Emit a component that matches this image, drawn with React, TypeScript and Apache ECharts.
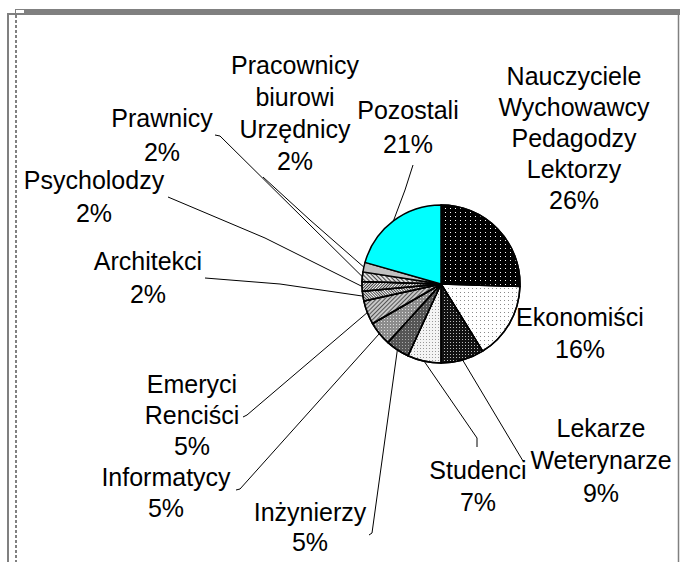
import React, { useEffect, useRef } from "react";
import * as echarts from "echarts";

// ---- data ----
const categories = [
  "Nauczyciele\nWychowawcy\nPedagodzy\nLektorzy",
  "Ekonomiści",
  "Lekarze\nWeterynarze",
  "Studenci",
  "Inżynierzy",
  "Informatycy",
  "Emeryci\nRenciści",
  "Architekci",
  "Psycholodzy",
  "Prawnicy",
  "Pracownicy\nbiurowi\nUrzędnicy",
  "Pozostali",
];
const percentValues = [26, 16, 9, 7, 5, 5, 5, 2, 2, 2, 2, 21];

// ---- presentation ----
const sliceColors = [
  "#000000", "#ffffff", "#111111", "#f4f4f4", "#555555", "#8c8c8c",
  "#c8c8c8", "#ffffff", "#ffffff", "#e0e0e0", "#c0c0c0", "#00ffff",
];
const sliceDecals: any[] = [
  { symbol: "rect", symbolSize: 1, color: "#ffffff", dashArrayX: [1, 4], dashArrayY: [1, 3] },
  { symbol: "rect", symbolSize: 1, color: "#8a8a8a", dashArrayX: [1, 3], dashArrayY: [1, 3] },
  { symbol: "rect", symbolSize: 1, color: "#bbbbbb", dashArrayX: [1, 2], dashArrayY: [1, 2] },
  { symbol: "rect", symbolSize: 1, color: "#999999", dashArrayX: [1, 2], dashArrayY: [1, 2] },
  { symbol: "rect", symbolSize: 1, color: "#aaaaaa", dashArrayX: [1, 2], dashArrayY: [1, 2] },
  { symbol: "rect", symbolSize: 1, color: "#dddddd", dashArrayX: [1, 2], dashArrayY: [1, 2] },
  { symbol: "rect", symbolSize: 1, color: "#555555", dashArrayX: [1, 0], dashArrayY: [1, 2], rotation: -Math.PI / 4 },
  { symbol: "rect", symbolSize: 1, color: "#444444", dashArrayX: [1, 0], dashArrayY: [1, 1], rotation: Math.PI / 4 },
  { symbol: "rect", symbolSize: 1, color: "#333333", dashArrayX: [1, 0], dashArrayY: [1, 1], rotation: -Math.PI / 4 },
  { symbol: "rect", symbolSize: 1, color: "#444444", dashArrayX: [1, 0], dashArrayY: [1, 2], rotation: Math.PI / 4 },
  null,
  null,
];
// label centre positions and leader line [mid, end] points (page px)
const labelPos: [number, number][] = [
  [574, 138], [580, 333], [601, 460], [478, 486], [310, 527], [166, 492.5],
  [192, 415], [148, 277], [94, 196], [162, 135], [295, 113], [408, 127],
];
const leaderPts: ([number, number][] | null)[] = [
  null,
  null,
  [[520, 456], [523, 461]],
  [[477, 438], [477, 447]],
  [[372, 533], [369, 535]],
  [[240, 489], [236, 490]],
  [[247, 415], [243, 417]],
  [[280, 284], [205, 278]],
  [[265, 238], [168, 197]],
  [[220, 136], [215, 135]],
  [[310, 220], [263, 177]],
  [[405, 190], [413, 165]],
];
const lineHeights = [31, 32.5, 32.5, 32, 30, 31, 31, 33, 33, 34, 32, 34];

export default function App() {
  const ref = useRef<HTMLDivElement>(null);
  useEffect(() => {
    document.body.style.margin = "0";
    if (!ref.current) return;
    const chart = echarts.init(ref.current, null, { renderer: "svg" });
    const data = categories.map((name, i) => ({
      name,
      value: percentValues[i],
      itemStyle: {
        color: sliceColors[i],
        ...(sliceDecals[i] ? { decal: sliceDecals[i] } : {}),
      },
      label: { lineHeight: lineHeights[i] },
      labelLine: { show: !!leaderPts[i] },
    }));
    chart.setOption({
      animation: false,
      backgroundColor: "#ffffff",
      graphic: [
        { type: "rect", shape: { x: 15, y: 9, width: 665, height: 6 }, style: { fill: "#808080" }, silent: true },
        { type: "rect", shape: { x: 16, y: 10, width: 8, height: 3 }, style: { fill: "#ffffff" }, silent: true },
        { type: "polyline", shape: { points: [[8, 562], [8, 14], [15, 14]] }, style: { stroke: "#808080", lineWidth: 2, fill: null }, silent: true },
        { type: "line", shape: { x1: 16, y1: 15, x2: 16, y2: 562 }, style: { stroke: "#808080", lineWidth: 2, lineDash: [3, 2] }, silent: true },
        { type: "line", shape: { x1: 678.5, y1: 15, x2: 678.5, y2: 562 }, style: { stroke: "#808080", lineWidth: 1.5 }, silent: true },
      ],
      series: [
        {
          type: "pie",
          center: [441, 284],
          radius: 79,
          startAngle: 90,
          clockwise: true,
          avoidLabelOverlap: false,
          data,
          itemStyle: { borderColor: "#000000", borderWidth: 1.5 },
          label: {
            show: true,
            position: "outside",
            color: "#000000",
            fontFamily: "Liberation Sans, Arial, sans-serif",
            fontSize: 25,
            formatter: (p: any) => `${p.name}\n${p.value}%`,
            align: "center",
          },
          labelLine: { show: true, lineStyle: { color: "#000000", width: 1 } },
          labelLayout: (params: any) => {
            const i = params.dataIndex;
            const [x, y] = labelPos[i];
            const res: any = { x, y, align: "center", verticalAlign: "middle", hideOverlap: false };
            const lp = leaderPts[i];
            if (lp && params.labelLinePoints) {
              res.labelLinePoints = [params.labelLinePoints[0], lp[0], lp[1]];
            }
            return res;
          },
        },
      ],
    });
    return () => chart.dispose();
  }, []);
  return <div ref={ref} style={{ width: 680, height: 562 }} />;
}
